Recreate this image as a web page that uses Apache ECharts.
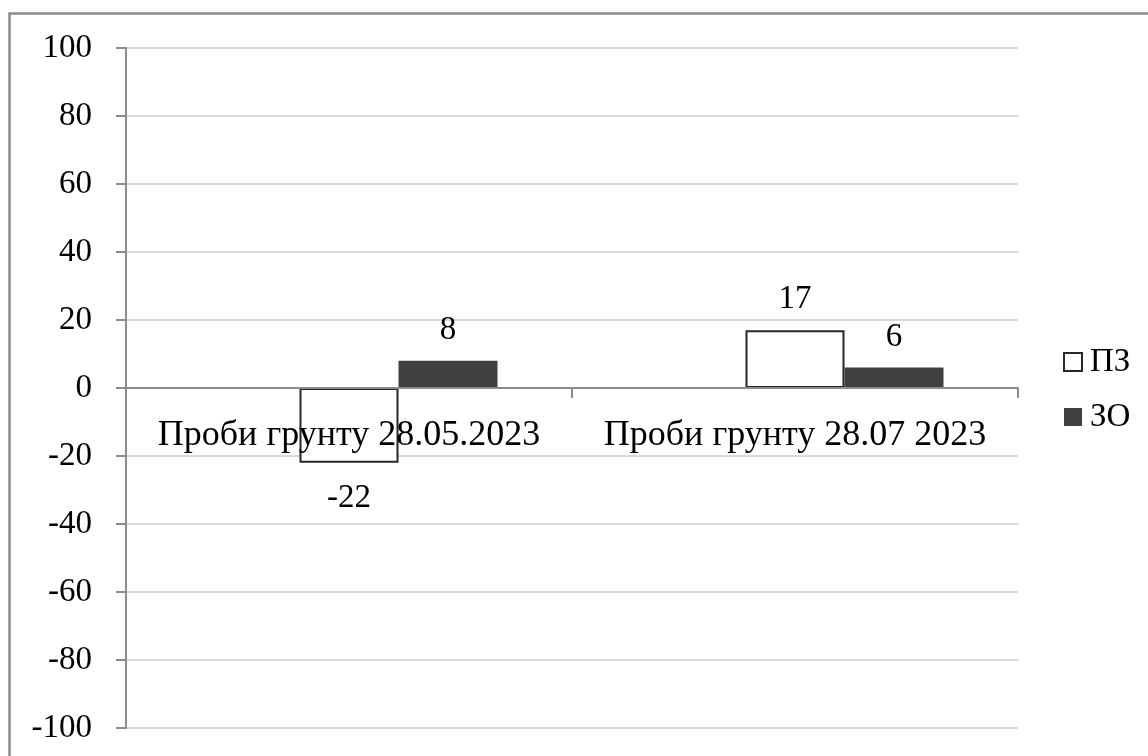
<!DOCTYPE html>
<html>
<head>
<meta charset="utf-8">
<script src="https://cdn.jsdelivr.net/npm/echarts@6/dist/echarts.min.js"></script>
<style>
  html, body { margin: 0; padding: 0; background: #fff; }
  #chart { width: 1148px; height: 756px; }
</style>
</head>
<body>
<div id="chart"></div>
<script>
// Soil sample categories and the two measured series
const categories = ['Проби грунту 28.05.2023', 'Проби грунту 28.07 2023'];
const seriesPZ = [-22, 17];
const seriesZO = [8, 6];
// Empty leading slot in each group (no values)
const seriesBlank = [null, null];

const FONT = "'Liberation Serif', 'Times New Roman', serif";

function withLabelSide(values) {
  return values.map(v => ({
    value: v,
    label: v < 0 ? { position: 'bottom', distance: 19 } : { position: 'top', distance: 14 }
  }));
}

const chart = echarts.init(document.getElementById('chart'), null, { renderer: 'canvas' });

chart.setOption({
  backgroundColor: '#ffffff',
  animation: false,
  textStyle: { fontFamily: FONT, color: '#000' },
  graphic: [{
    type: 'rect',
    shape: { x: 9.5, y: 13.5, width: 1300, height: 900 },
    style: { fill: 'none', stroke: '#8c8c8c', lineWidth: 2.5 },
    silent: true,
    z: -1
  }],
  grid: { left: 126, right: 130, top: 48, bottom: 28, containLabel: false, outerBoundsMode: 'none' },
  legend: {
    orient: 'vertical',
    left: 1063,
    top: 345,
    padding: 0,
    itemWidth: 18,
    itemHeight: 18,
    itemGap: 21,
    data: ['ПЗ', 'ЗО'],
    icon: 'rect',
    textStyle: { fontFamily: FONT, fontSize: 33, color: '#000', lineHeight: 34, padding: [0, 0, 0, 3] }
  },
  xAxis: {
    type: 'category',
    data: categories,
    z: 3,
    axisLine: { onZero: true, lineStyle: { color: '#8c8c8c', width: 2 } },
    axisTick: { show: true, alignWithLabel: false, length: 10, lineStyle: { color: '#8c8c8c', width: 2 } },
    // category names sit just under the zero line, inside the plot, drawn over the bars
    axisLabel: { fontFamily: FONT, fontSize: 36, color: '#000', margin: -310, interval: 0 },
    splitLine: { show: false }
  },
  yAxis: {
    type: 'value',
    min: -100,
    max: 100,
    interval: 20,
    axisLine: { show: true, lineStyle: { color: '#8c8c8c', width: 2 } },
    axisTick: { show: true, length: 10, lineStyle: { color: '#8c8c8c', width: 2 } },
    axisLabel: { fontFamily: FONT, fontSize: 33, color: '#000', margin: 34 },
    splitLine: { show: true, lineStyle: { color: '#d9d9d9', width: 2 } }
  },
  series: [
    {
      name: '',
      type: 'bar',
      data: seriesBlank,
      barWidth: 99,
      barGap: '0%',
      itemStyle: { color: 'transparent' },
      silent: true
    },
    {
      name: 'ПЗ',
      type: 'bar',
      data: withLabelSide(seriesPZ),
      barWidth: 99,
      barGap: '0%',
      itemStyle: { color: '#ffffff', borderColor: '#262626', borderWidth: 2 },
      label: { show: true, fontFamily: FONT, fontSize: 33, color: '#000' }
    },
    {
      name: 'ЗО',
      type: 'bar',
      data: withLabelSide(seriesZO),
      barWidth: 99,
      barGap: '0%',
      itemStyle: { color: '#404040' },
      label: { show: true, fontFamily: FONT, fontSize: 33, color: '#000' }
    }
  ]
});
</script>
</body>
</html>
